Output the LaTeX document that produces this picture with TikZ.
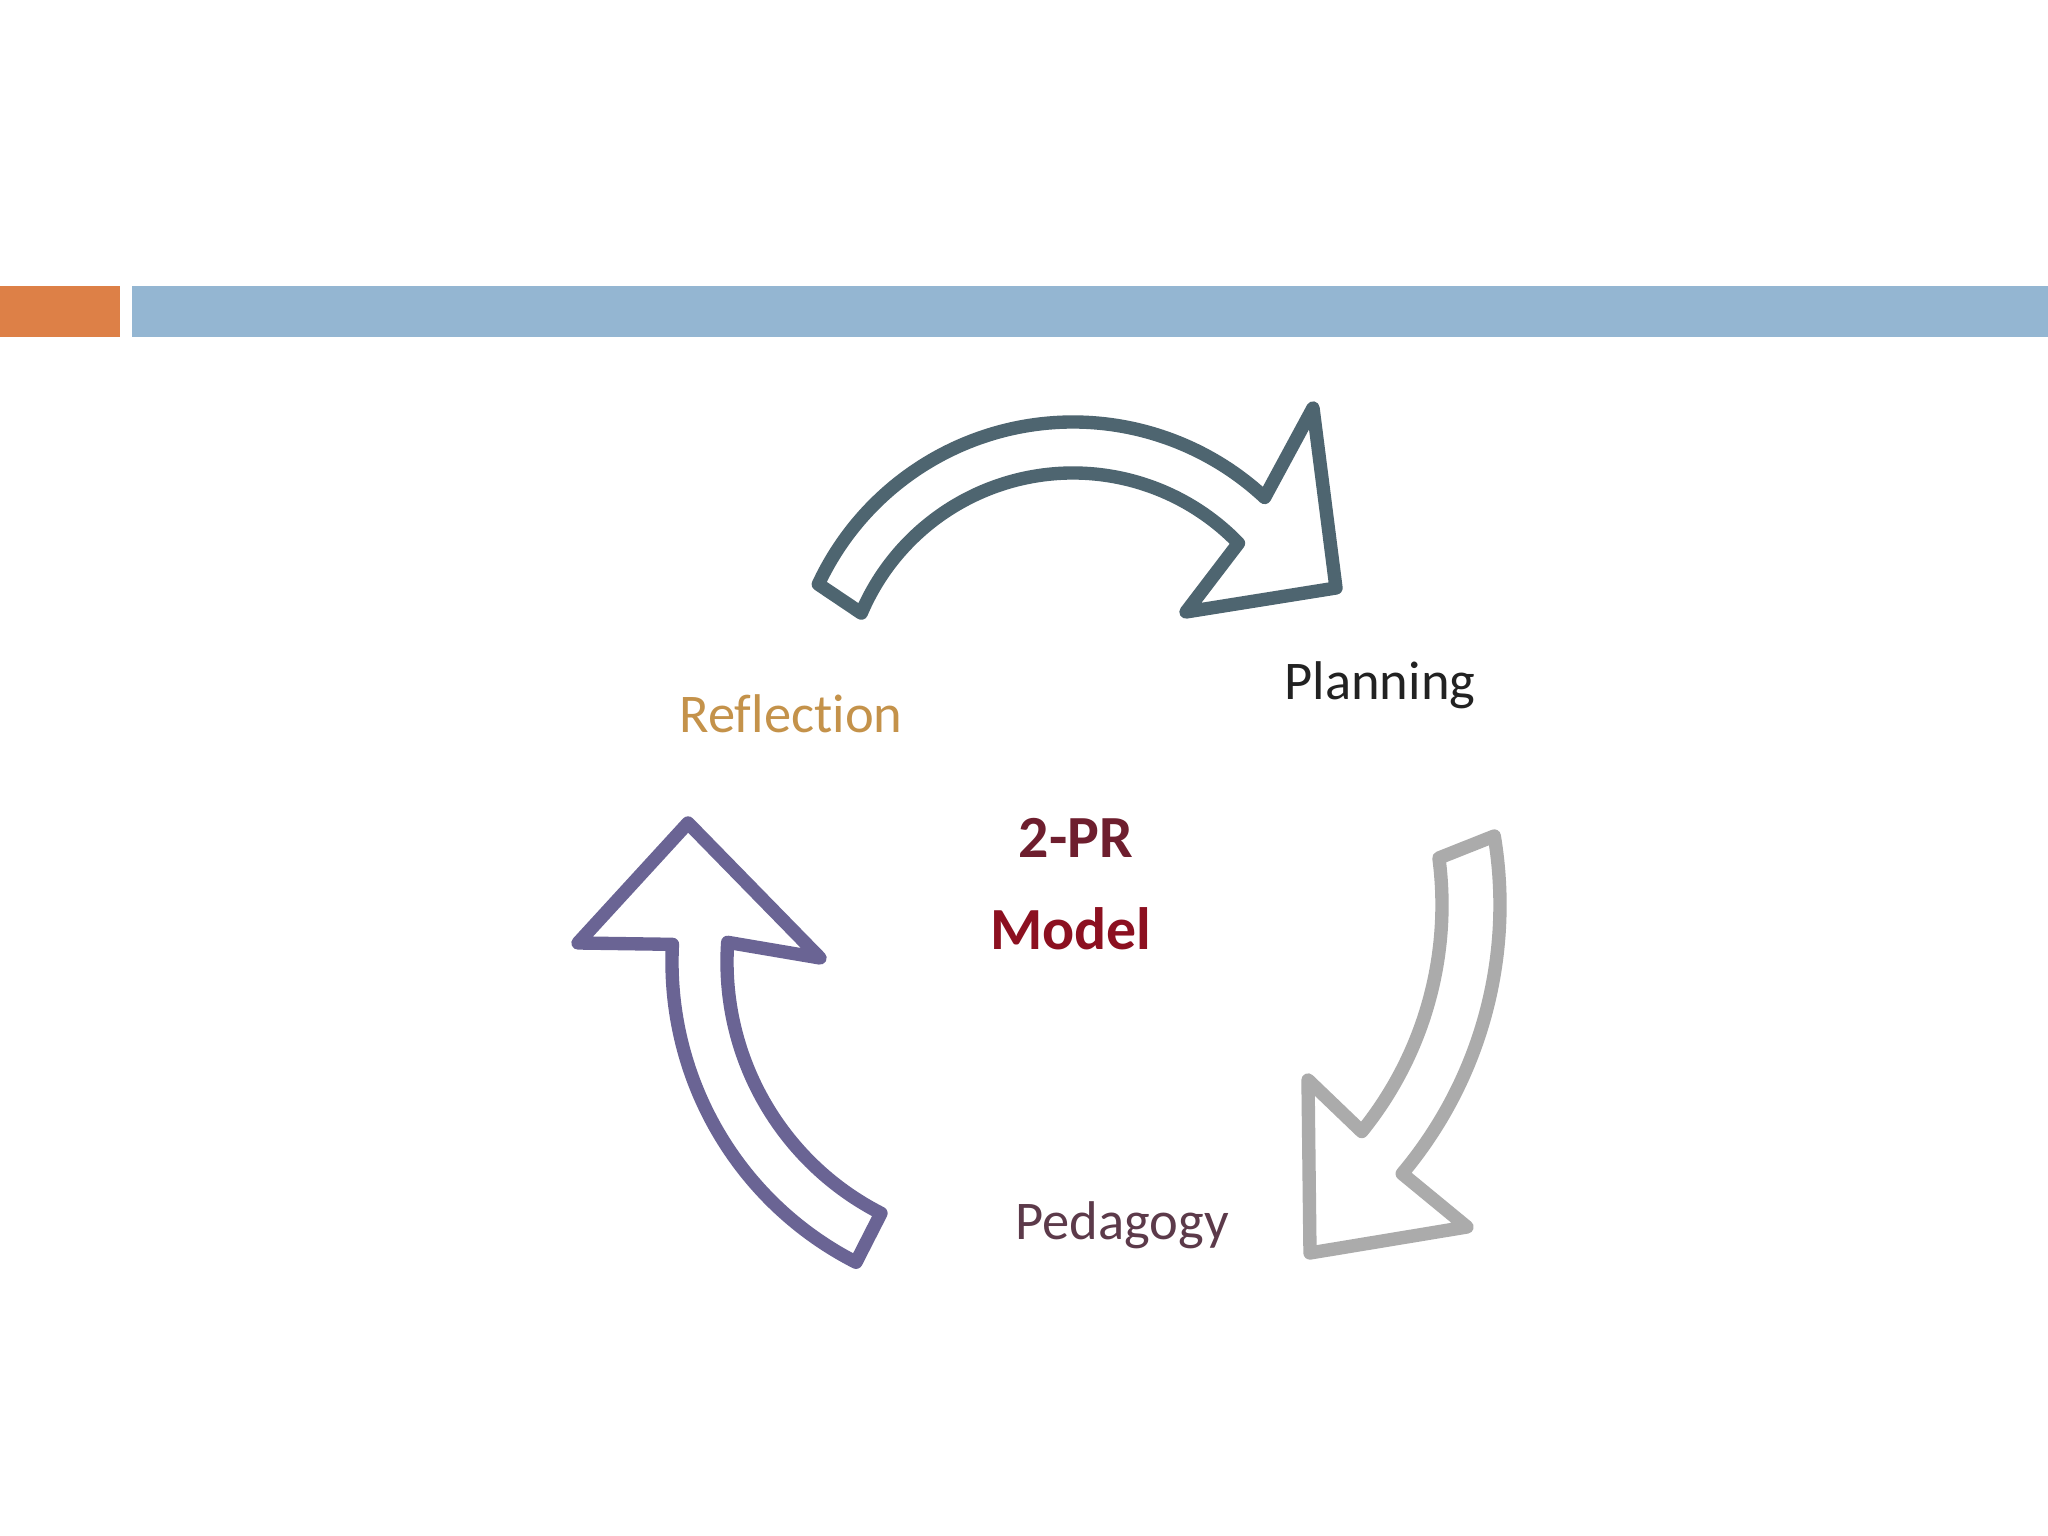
\documentclass[tikz,border=0pt]{standalone}
\usepackage{fontspec}
\setmainfont{Carlito}[Ligatures=NoCommon]
\usepackage{xcolor}
\definecolor{CycOrange}{HTML}{DD8047}
\definecolor{CycBlue}{HTML}{94B6D2}
\definecolor{CycSlate}{HTML}{4E6570}
\definecolor{CycGray}{HTML}{ABABAB}
\definecolor{CycViolet}{HTML}{6A6494}
\definecolor{CycGold}{HTML}{C4924A}
\definecolor{CycInk}{HTML}{222222}
\definecolor{CycPlum}{HTML}{5C3A4A}
\definecolor{CycMaroon}{HTML}{6E1E2E}
\definecolor{CycRed}{HTML}{8C1020}
\usepackage{tikz}
\usetikzlibrary{positioning,calc}

\tikzset{
  cyclearrow/.style={line width=3.8pt, line join=round},
  steplabel/.style={anchor=base, inner sep=0pt, font=\fontsize{15.5}{15.5}\selectfont},
  modellabel/.style={anchor=base, inner sep=0pt, font=\fontsize{17}{17}\selectfont\bfseries},
}

\begin{document}
\begin{tikzpicture}[x=0.01cm, y=0.01cm]
  % canvas, 2048 x 1536 px
  \fill[white] (0,0) rectangle (2048,1536);
  \useasboundingbox (0,0) rectangle (2048,1536);
  % title bars
  \fill[CycOrange] (0,1199) rectangle (120,1250);
  \fill[CycBlue] (132,1199) rectangle (2048,1250);
  % arc centres of the three arrows
  \coordinate (topc) at (1073,833);
  \coordinate (rightc) at (1082,631);
  \coordinate (leftc) at (1009,574);
  % top arrow: Reflection -> Planning
  \draw[cyclearrow, CycSlate]
    ($(topc)+(155:281)$) arc[start angle=155, end angle=47, radius=281]
    -- (1313,1128) -- (1336,948) -- (1186,924)
    -- ($(topc)+(44:230)$) arc[start angle=44, end angle=157, radius=230]
    -- cycle;
  % right arrow: Planning -> Pedagogy
  \draw[cyclearrow, CycGray]
    ($(rightc)+(9.5:418)$) arc[start angle=9.5, end angle=-40, radius=418]
    -- (1467,309) -- (1310,283) -- (1308,456)
    -- ($(rightc)+(-39:360)$) arc[start angle=-39, end angle=7.5, radius=360]
    -- cycle;
  % left arrow: Pedagogy -> Reflection
  \draw[cyclearrow, CycViolet]
    (688,713) -- (578,593)
    -- ($(leftc)+(177:337)$) arc[start angle=177, end angle=243, radius=337]
    -- ($(leftc)+(243:282)$) arc[start angle=243, end angle=176, radius=282]
    -- (820,578) -- cycle;
  % step labels
  \node[steplabel, text=CycGold] (reflection) at (791,803) {Reflection};
  \node[steplabel, text=CycInk] (planning) at (1380,836) {Planning};
  \node[steplabel, text=CycPlum] (pedagogy) at (1122,296) {Pedagogy};
  % centre title
  \node[modellabel, text=CycMaroon] (prname) at (1076,678) {2-PR};
  \node[modellabel, text=CycRed] (prmodel) at (1071,586) {Model};
\end{tikzpicture}
\end{document}
